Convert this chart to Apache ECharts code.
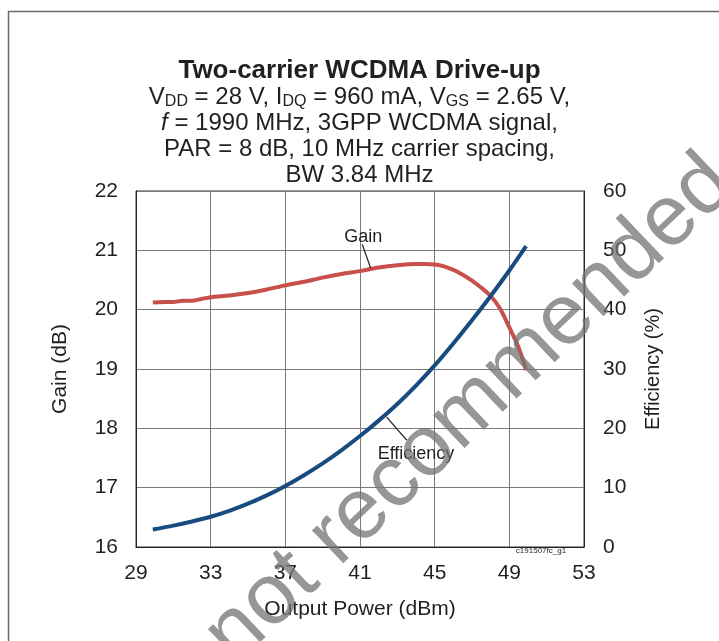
<!DOCTYPE html>
<html>
<head>
<meta charset="utf-8">
<script src="https://cdn.jsdelivr.net/npm/echarts@6/dist/echarts.min.js"></script>
<style>
  html, body { margin: 0; padding: 0; background: #fff; }
  #main { width: 719px; height: 641px; }
</style>
</head>
<body>
<div id="main"></div>
<script>
// values
const gainPower = [29.9, 30.5, 31, 31.5, 32, 32.5, 33, 34, 35, 36, 37, 38, 39, 40, 41, 42, 43, 44, 44.5, 45, 45.5, 46, 46.5, 47, 47.5, 48, 48.5, 49, 49.5, 49.9];
const gainDb = [20.12, 20.13, 20.13, 20.15, 20.15, 20.18, 20.21, 20.24, 20.28, 20.34, 20.41, 20.47, 20.54, 20.6, 20.65, 20.71, 20.75, 20.77, 20.77, 20.76, 20.73, 20.67, 20.59, 20.49, 20.37, 20.23, 20.02, 19.7, 19.36, 18.98];
const effPower = [29.9, 31, 32, 33, 34, 35, 36, 37, 38, 39, 40, 41, 42, 43, 44, 45, 46, 47, 48, 49, 49.9];
const effPct = [2.95, 3.6, 4.3, 5.1, 6.1, 7.3, 8.7, 10.3, 12.1, 14.1, 16.3, 18.7, 21.3, 24.1, 27.2, 30.6, 34.3, 38.2, 42.3, 46.6, 50.7];

const chart = echarts.init(document.getElementById('main'));
const ink = '#231f20';
const font = 'Arial, "Liberation Sans", sans-serif';

const option = {
    backgroundColor: '#fff',
    animation: false,
    textStyle: { fontFamily: font, color: ink },
    title: {
        text: 'Two-carrier WCDMA Drive-up',
        left: 'center',
        top: 53,
        itemGap: 0,
        textStyle: { fontSize: 26, fontWeight: 'bold', color: ink, fontFamily: font },
        subtext: [
            '{n|V}{s|DD}{n| = 28 V, I}{s|DQ}{n| = 960 mA, V}{s|GS}{n| = 2.65 V,}',
            '{i|f}{n| = 1990 MHz, 3GPP WCDMA signal,}',
            '{n|PAR = 8 dB, 10 MHz carrier spacing,}',
            '{n|BW 3.84 MHz}'
        ].join('\n'),
        subtextStyle: {
            color: ink,
            fontFamily: font,
            rich: {
                n: { fontSize: 24, lineHeight: 26, verticalAlign: 'middle', color: ink, fontFamily: font },
                i: { fontSize: 24, lineHeight: 26, verticalAlign: 'middle', fontStyle: 'italic', color: ink, fontFamily: font },
                s: { fontSize: 16, lineHeight: 16, verticalAlign: 'bottom', color: ink, fontFamily: font }
            }
        }
    },
    grid: {
        left: 136, right: 135, top: 191, bottom: 94,
        show: true, borderColor: '#333', borderWidth: 1
    },
    xAxis: {
        type: 'value',
        min: 29, max: 53, interval: 4,
        name: 'Output Power (dBm)',
        nameLocation: 'middle',
        nameGap: 52,
        nameTextStyle: { fontSize: 21, color: ink },
        axisLine: { show: true, lineStyle: { color: '#222' } },
        axisTick: { show: false },
        axisLabel: { fontSize: 21, color: ink, margin: 16, showMinLabel: true, showMaxLabel: true },
        splitLine: { show: true, lineStyle: { color: '#7a7a7a', width: 1 } }
    },
    yAxis: [
        {
            type: 'value',
            min: 16, max: 22, interval: 1,
            name: 'Gain (dB)',
            nameLocation: 'middle',
            nameGap: 65,
            nameTextStyle: { fontSize: 21, color: ink },
            axisLine: { show: true, lineStyle: { color: '#222' } },
            axisTick: { show: false },
            axisLabel: { fontSize: 21, color: ink, margin: 18 },
            splitLine: { show: true, lineStyle: { color: '#7a7a7a', width: 1 } }
        },
        {
            type: 'value',
            min: 0, max: 60, interval: 10,
            name: 'Efficiency (%)',
            nameLocation: 'middle',
            nameGap: 59,
            nameRotate: 90,
            nameTextStyle: { fontSize: 20, color: ink },
            axisLine: { show: true, lineStyle: { color: '#222' } },
            axisTick: { show: false },
            axisLabel: { fontSize: 21, color: ink, margin: 19 },
            splitLine: { show: false }
        }
    ],
    series: [
        {
            name: 'Gain',
            type: 'line',
            yAxisIndex: 0,
            smooth: 0.3,
            showSymbol: false,
            lineStyle: { color: '#c8504a', width: 4 },
            data: gainPower.map((p, k) => [p, gainDb[k]]),
            z: 3
        },
        {
            name: 'Efficiency',
            type: 'line',
            yAxisIndex: 1,
            smooth: 0.3,
            showSymbol: false,
            lineStyle: { color: '#184b80', width: 4 },
            data: effPower.map((p, k) => [p, effPct[k]]),
            z: 4
        }
    ]
};
chart.setOption(option);

// callouts placed in data space, then converted to pixels
const gp = (x, y) => chart.convertToPixel({ xAxisIndex: 0, yAxisIndex: 0 }, [x, y]);
const ep = (x, y) => chart.convertToPixel({ xAxisIndex: 0, yAxisIndex: 1 }, [x, y]);
const g1 = gp(41.12, 21.1), g2 = gp(41.57, 20.7), gT = gp(41.17, 21.22);
const e1 = ep(42.43, 21.9), e2 = ep(43.5, 18.0), eT = ep(44.0, 15.6);

chart.setOption({
    graphic: [
        { type: 'rect', left: 6, top: 9, shape: { width: 800, height: 800 }, style: { fill: 'none', stroke: '#6a6a6a', lineWidth: 1.5 }, z: -1, silent: true },
        { type: 'line', shape: { x1: g1[0], y1: g1[1], x2: g2[0], y2: g2[1] }, style: { stroke: ink, lineWidth: 1.3 }, z: 10 },
        { type: 'text', x: gT[0], y: gT[1], style: { text: 'Gain', font: '18px ' + font, fill: ink, align: 'center', verticalAlign: 'middle' }, z: 10 },
        { type: 'line', shape: { x1: e1[0], y1: e1[1], x2: e2[0], y2: e2[1] }, style: { stroke: ink, lineWidth: 1.3 }, z: 10 },
        { type: 'text', x: eT[0], y: eT[1], style: { text: 'Efficiency', font: '18px ' + font, fill: ink, align: 'center', verticalAlign: 'middle' }, z: 10 },
        { type: 'text', x: 541, y: 551, style: { text: 'c191507fc_g1', font: '8px ' + font, fill: ink, align: 'center', verticalAlign: 'middle' }, z: 10 },
        { type: 'text', x: 470, y: 410, rotation: 0.76, style: { text: 'not recommended', font: '86px ' + font, fill: 'rgba(115,115,115,0.75)', align: 'center', verticalAlign: 'middle' }, z: 20, silent: true }
    ]
});
</script>
</body>
</html>
